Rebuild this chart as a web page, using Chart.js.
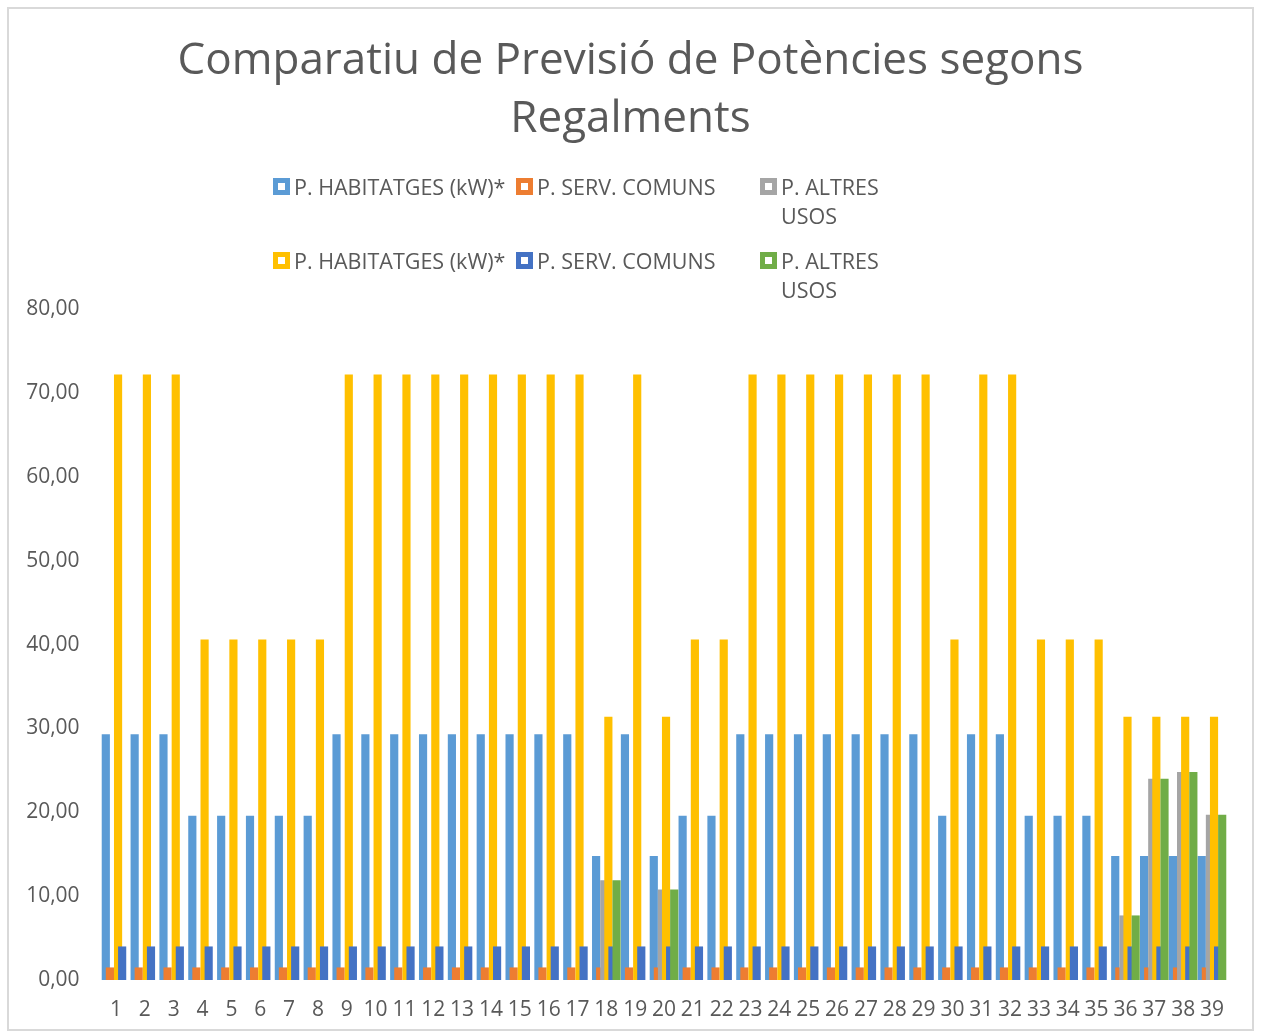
<!DOCTYPE html>
<html>
<head>
<meta charset="utf-8">
<script src="https://cdn.jsdelivr.net/npm/chart.js@4/dist/chart.umd.min.js"></script>
<style>
    html, body { margin: 0; padding: 0; background: #fff; }
    #wrap { position: relative; width: 1261px; height: 1034px; }
    #frame {
        position: absolute; left: 7px; top: 7px; width: 1247px; height: 1024px;
        border: 2px solid #d9d9d9; box-sizing: border-box; pointer-events: none;
    }
    #legend { position: absolute; left: 0; top: 0; font-family: "Open Sans", sans-serif; font-size: 21.5px; color: #595959; }
    .item { position: absolute; display: flex; align-items: flex-start; line-height: 29px; white-space: nowrap; }
    .box { width: 17px; height: 17px; margin: 6px 4px 0 0; position: relative; flex: none; }
    .box::after { content: ''; position: absolute; left: 5px; top: 5px; width: 7px; height: 7px; background: #fff; }
    .wrap-txt { white-space: normal; width: 110px; }
</style>
</head>
<body>
<div id="wrap">
    <canvas id="chart" width="1261" height="1034"></canvas>
    <div id="legend"></div>
    <div id="frame"></div>
</div>
<script>
// categories 1..39
const categories = ["1", "2", "3", "4", "5", "6", "7", "8", "9", "10", "11", "12", "13", "14", "15", "16", "17", "18", "19", "20",
    "21", "22", "23", "24", "25", "26", "27", "28", "29", "30", "31", "32", "33", "34", "35", "36", "37", "38", "39"];

// first regulation
const habitatges_a = [29.3, 29.3, 29.3, 19.6, 19.6, 19.6, 19.6, 19.6, 29.3, 29.3, 29.3, 29.3, 29.3, 29.3, 29.3, 29.3, 29.3, 14.8, 29.3, 14.8,
    19.6, 19.6, 29.3, 29.3, 29.3, 29.3, 29.3, 29.3, 29.3, 19.6, 29.3, 29.3, 19.6, 19.6, 19.6, 14.8, 14.8, 14.8, 14.8];
const serveis_a = [1.5, 1.5, 1.5, 1.5, 1.5, 1.5, 1.5, 1.5, 1.5, 1.5, 1.5, 1.5, 1.5, 1.5, 1.5, 1.5, 1.5, 1.5, 1.5, 1.5,
    1.5, 1.5, 1.5, 1.5, 1.5, 1.5, 1.5, 1.5, 1.5, 1.5, 1.5, 1.5, 1.5, 1.5, 1.5, 1.5, 1.5, 1.5, 1.5];
const altres_a = [0, 0, 0, 0, 0, 0, 0, 0, 0, 0, 0, 0, 0, 0, 0, 0, 0, 11.9, 0, 10.8,
    0, 0, 0, 0, 0, 0, 0, 0, 0, 0, 0, 0, 0, 0, 0, 7.7, 24.0, 24.8, 19.7];

// second regulation
const habitatges_b = [72.2, 72.2, 72.2, 40.6, 40.6, 40.6, 40.6, 40.6, 72.2, 72.2, 72.2, 72.2, 72.2, 72.2, 72.2, 72.2, 72.2, 31.4, 72.2, 31.4,
    40.6, 40.6, 72.2, 72.2, 72.2, 72.2, 72.2, 72.2, 72.2, 40.6, 72.2, 72.2, 40.6, 40.6, 40.6, 31.4, 31.4, 31.4, 31.4];
const serveis_b = [4.0, 4.0, 4.0, 4.0, 4.0, 4.0, 4.0, 4.0, 4.0, 4.0, 4.0, 4.0, 4.0, 4.0, 4.0, 4.0, 4.0, 4.0, 4.0, 4.0,
    4.0, 4.0, 4.0, 4.0, 4.0, 4.0, 4.0, 4.0, 4.0, 4.0, 4.0, 4.0, 4.0, 4.0, 4.0, 4.0, 4.0, 4.0, 4.0];
const altres_b = [0, 0, 0, 0, 0, 0, 0, 0, 0, 0, 0, 0, 0, 0, 0, 0, 0, 11.9, 0, 10.8,
    0, 0, 0, 0, 0, 0, 0, 0, 0, 0, 0, 0, 0, 0, 0, 7.7, 24.0, 24.8, 19.7];

const y_ticks = [0, 10, 20, 30, 40, 50, 60, 70, 80];

const series = [
    { label: 'P. HABITATGES (kW)*', data: habitatges_a, color: '#5b9bd5' },
    { label: 'P. SERV. COMUNS', data: serveis_a, color: '#ed7d31' },
    { label: 'P. ALTRES USOS', data: altres_a, color: '#a5a5a5' },
    { label: 'P. HABITATGES (kW)*', data: habitatges_b, color: '#ffc000' },
    { label: 'P. SERV. COMUNS', data: serveis_b, color: '#4472c4' },
    { label: 'P. ALTRES USOS', data: altres_b, color: '#70ad47' }
];

const font_family = '"Open Sans", sans-serif';
const text_color = '#595959';

/**
 * Draw datasets in index order so later series sit on top (Excel overlap)
 */
const draw_in_order = {
    id: 'draw_in_order',
    beforeDatasetsDraw(chart) {
        chart.getSortedVisibleDatasetMetas().forEach(meta => meta.controller.draw());
        return false;
    }
};

/**
 * Build the html legend in three columns
 */
function build_legend() {
    const cols = [273, 516, 760];
    const rows = [172, 246];
    let html = '';

    series.forEach((s, i) => {
        const col = cols[i % 3];
        const row = rows[Math.floor(i / 3)];
        const cls = i % 3 == 2 ? 'wrap-txt' : '';

        html += '<div class="item" style="left:' + col + 'px;top:' + row + 'px"> \
            <span class="box" style="background:' + s.color + '"></span> \
            <span class="' + cls + '">' + s.label + '</span></div>';
    });

    document.getElementById('legend').innerHTML = html;
}

build_legend();

new Chart(document.getElementById('chart').getContext('2d'), {
    type: 'bar',
    data: {
        labels: categories,
        datasets: series.map(s => ({
            label: s.label,
            data: s.data,
            backgroundColor: s.color,
            categoryPercentage: 0.85,
            barPercentage: 2.0
        }))
    },
    options: {
        responsive: false,
        animation: false,
        layout: { padding: { left: 21, right: 21, top: 10, bottom: 9 } },
        plugins: {
            legend: { display: false },
            tooltip: { enabled: false },
            title: {
                display: true,
                text: ['Comparatiu de Previsió de Potències segons', 'Regalments'],
                color: text_color,
                font: { family: font_family, size: 44, weight: 'normal', lineHeight: 1.32 },
                padding: { top: 22, bottom: 161 }
            }
        },
        scales: {
            x: {
                afterFit(scale) { scale.height = 45; },
                grid: { display: false, drawTicks: false },
                border: { display: false },
                ticks: {
                    color: text_color,
                    autoSkip: false,
                    maxRotation: 0,
                    padding: 17,
                    font: { family: font_family, size: 21 }
                }
            },
            y: {
                min: 0,
                max: 80,
                afterFit(scale) { scale.width = 80.6; },
                afterBuildTicks(scale) { scale.ticks = y_ticks.map(v => ({ value: v })); },
                grid: { display: false, drawTicks: false },
                border: { display: false },
                ticks: {
                    color: text_color,
                    padding: 22,
                    font: { family: font_family, size: 21 },
                    callback: v => v.toFixed(2).replace('.', ',')
                }
            },
            // empty right axis, only keeps the plot away from the right edge
            y_right: {
                position: 'right',
                afterFit(scale) { scale.width = 13.6; },
                grid: { display: false, drawTicks: false },
                border: { display: false },
                ticks: { display: false }
            }
        }
    },
    plugins: [draw_in_order]
});
</script>
</body>
</html>
